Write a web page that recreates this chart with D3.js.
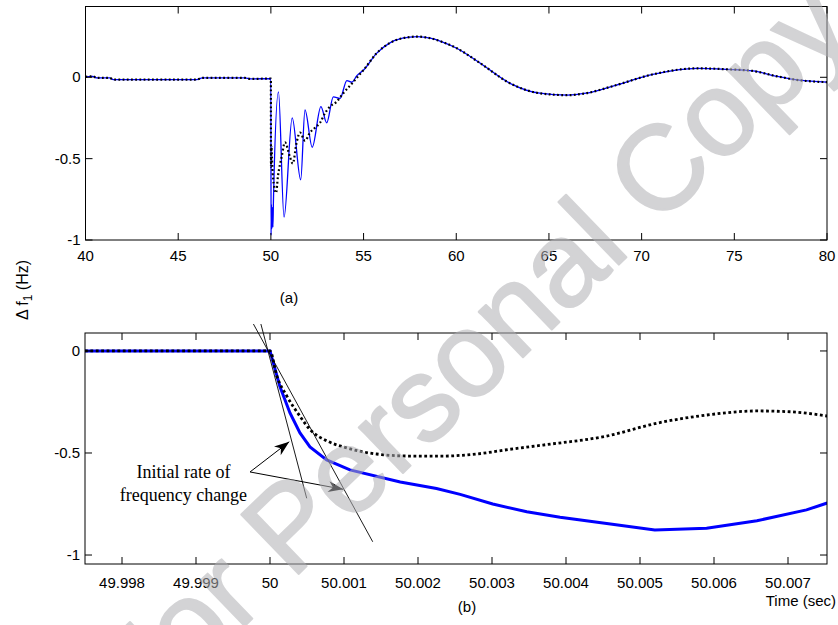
<!DOCTYPE html>
<html><head><meta charset="utf-8">
<script src="https://cdn.jsdelivr.net/npm/d3@7"></script>
<style>body{margin:0;background:#fff} svg{display:block}</style>
</head><body>
<svg id="c" width="838" height="625"></svg>
<script>
// ---------- Panel (a) data ----------
const preTime  = [40, 40.4, 40.6, 41.3, 41.5, 46.0, 46.3, 48.6, 48.9, 50.0];
const preVal   = [0.003, 0.006, -0.004, -0.004, -0.014, -0.014, -0.004, -0.004, -0.01, -0.008];
const blueTransTime = [50.0, 50.01, 50.03, 50.05, 50.08, 50.11, 50.14, 50.41, 50.71, 51.15, 51.61, 51.84, 52.23, 52.70, 53.01, 53.37, 53.73, 54.10, 54.37, 54.64];
const blueTransVal  = [-0.008, -0.97, -0.78, -0.93, -0.8, -0.92, -0.75, -0.09, -0.86, -0.25, -0.63, -0.20, -0.43, -0.18, -0.28, -0.12, -0.13, -0.02, -0.03, 0.01];
const dotTransTime  = [50.0, 50.005, 50.03, 50.06, 50.11, 50.28, 50.38, 50.58, 50.76, 51.03, 51.18, 51.39, 51.57, 51.84, 52.11, 52.38, 52.65, 52.92, 53.19, 53.55, 53.89, 54.36, 54.81];
const dotTransVal   = [-0.008, -0.55, -0.42, -0.5, -0.61, -0.71, -0.61, -0.49, -0.40, -0.49, -0.53, -0.40, -0.34, -0.39, -0.34, -0.31, -0.28, -0.22, -0.18, -0.15, -0.10, -0.04, 0.02];
const postTime = [55.0, 55.7, 56.4, 57.1, 57.9, 58.6, 59.3, 60.0, 61.3, 62.9, 64.5, 66.0, 67.0, 68.6, 70.6, 73.0, 74.6, 76.0, 77.3, 78.5, 80];
const postVal  = [0.045, 0.147, 0.21, 0.24, 0.25, 0.24, 0.215, 0.18, 0.086, -0.037, -0.098, -0.11, -0.098, -0.049, 0.018, 0.055, 0.049, 0.039, 0.006, -0.018, -0.03];
const topXTicks = [40, 45, 50, 55, 60, 65, 70, 75, 80];
const topYTicks = [-1, -0.5, 0];

// ---------- Panel (b) data ----------
const botBlueTime = [49.9975, 50.0, 50.000135, 50.00027, 50.000405, 50.00054, 50.000766, 50.00108, 50.00176, 50.00225, 50.00257, 50.00301, 50.00347, 50.00392, 50.00455, 50.0052, 50.0059, 50.00658, 50.00725, 50.00753];
const botBlueVal  = [0, 0, -0.176, -0.304, -0.402, -0.47, -0.534, -0.583, -0.642, -0.674, -0.703, -0.75, -0.788, -0.815, -0.846, -0.877, -0.869, -0.832, -0.779, -0.745];
const botDotTime  = [49.9975, 50.0, 50.00009, 50.000226, 50.000405, 50.00054, 50.000766, 50.001036, 50.00144, 50.00189, 50.00234, 50.00279, 50.00324, 50.00369, 50.00455, 50.00523, 50.0059, 50.00658, 50.00703, 50.00753];
const botDotVal   = [0, 0, -0.12, -0.22, -0.32, -0.385, -0.44, -0.475, -0.505, -0.515, -0.515, -0.505, -0.482, -0.461, -0.417, -0.354, -0.314, -0.294, -0.298, -0.319];
const botXTicks = [49.998, 49.999, 50, 50.001, 50.002, 50.003, 50.004, 50.005, 50.006, 50.007];
const botXLabels = ["49.998", "49.999", "50", "50.001", "50.002", "50.003", "50.004", "50.005", "50.006", "50.007"];
const botYTicks = [-1, -0.5, 0];

// annotation (data units of panel b)
const tangentA = [[49.999877, 0.132], [50.000496, -0.722]];
const tangentB = [[49.999776, 0.132], [50.001388, -0.935]];
const arrowFrom = [49.99973, -0.593];
const arrowTips = [[50.00026, -0.445], [50.00099, -0.678]];
const noteLines = ["Initial rate of", "frequency change"];
const notePos = [[49.99883, -0.623], [49.99883, -0.736]];

// ---------- drawing ----------
const svg = d3.select("#c");
const FONT = "Liberation Sans, Arial, sans-serif";
const zip = (a, b) => a.map((v, i) => [v, b[i]]);

function frame(g, x, y, xTicks, xFmt, yTicks, labelGap) {
  const [x0, x1] = x.range(), [yb, yt] = y.range();
  const tl = 7;
  const ax = g.append("g").attr("font-family", FONT).attr("font-size", 15);
  xTicks.forEach((t, i) => {
    const px = x(t);
    ax.append("line").attr("x1", px).attr("x2", px).attr("y1", yb).attr("y2", yb - tl).attr("stroke", "#000");
    ax.append("line").attr("x1", px).attr("x2", px).attr("y1", yt).attr("y2", yt + tl).attr("stroke", "#000");
    ax.append("text").attr("x", px).attr("y", yb + labelGap).attr("text-anchor", "middle").text(xFmt(t, i));
  });
  yTicks.forEach(t => {
    const py = y(t);
    ax.append("line").attr("x1", x0).attr("x2", x0 + tl).attr("y1", py).attr("y2", py).attr("stroke", "#000");
    ax.append("line").attr("x1", x1).attr("x2", x1 - tl).attr("y1", py).attr("y2", py).attr("stroke", "#000");
    ax.append("text").attr("x", x0 - 5).attr("y", py + 5).attr("text-anchor", "end").text(String(t));
  });
  ax.append("rect").attr("x", x0).attr("y", yt).attr("width", x1 - x0).attr("height", yb - yt)
    .attr("fill", "none").attr("stroke", "#000").attr("stroke-width", 1);
}

// Panel (a)
const xA = d3.scaleLinear().domain([40, 80]).range([85.5, 827]);
const yA = d3.scaleLinear().domain([-1, 0.435]).range([240, 6.5]);
svg.append("clipPath").attr("id", "clipA").append("rect")
  .attr("x", 85.5).attr("y", 6.5).attr("width", 827 - 85.5).attr("height", 240 - 6.5);
const lineA = d3.line().x(d => xA(d[0])).y(d => yA(d[1])).curve(d3.curveMonotoneX);
const blueA = zip(preTime.concat(blueTransTime, postTime), preVal.concat(blueTransVal, postVal));
const dotA  = zip(preTime.concat(dotTransTime, postTime), preVal.concat(dotTransVal, postVal));
const gA = svg.append("g").attr("clip-path", "url(#clipA)");
gA.append("path").attr("d", lineA(blueA)).attr("fill", "none").attr("stroke", "#0000ff").attr("stroke-width", 1.3);
gA.append("path").attr("d", lineA(dotA)).attr("fill", "none").attr("stroke", "#000").attr("stroke-width", 2.2)
  .attr("stroke-dasharray", "1.8,2.4");
frame(svg, xA, yA, topXTicks, t => String(t), topYTicks, 21);

// Panel (b)
const xB = d3.scaleLinear().domain([49.9975, 50.007527]).range([85, 827]);
const yB = d3.scaleLinear().domain([-1.044, 0.088]).range([564, 333]);
svg.append("clipPath").attr("id", "clipB").append("rect")
  .attr("x", 85).attr("y", 333).attr("width", 827 - 85).attr("height", 564 - 333);
const lineB = d3.line().x(d => xB(d[0])).y(d => yB(d[1]));
const lineBs = d3.line().x(d => xB(d[0])).y(d => yB(d[1])).curve(d3.curveMonotoneX);
const gB = svg.append("g").attr("clip-path", "url(#clipB)");
gB.append("path").attr("d", lineB(zip(botBlueTime, botBlueVal))).attr("fill", "none").attr("stroke", "#0000ff").attr("stroke-width", 3);
gB.append("path").attr("d", lineBs(zip(botDotTime, botDotVal))).attr("fill", "none").attr("stroke", "#000").attr("stroke-width", 2.8)
  .attr("stroke-dasharray", "2.8,2.6");
frame(svg, xB, yB, botXTicks, (t, i) => botXLabels[i], botYTicks, 24);

// annotations
const defs = svg.append("defs");
defs.append("marker").attr("id", "ah").attr("viewBox", "-16 -7 17 14").attr("refX", 0).attr("refY", 0)
  .attr("markerWidth", 17).attr("markerHeight", 14).attr("markerUnits", "userSpaceOnUse").attr("orient", "auto")
  .append("path").attr("d", "M0,0 L-15,-5.5 L-10.5,0 L-15,5.5 Z").attr("fill", "#000");
[tangentA, tangentB].forEach(seg => {
  svg.append("line").attr("x1", xB(seg[0][0])).attr("y1", yB(seg[0][1])).attr("x2", xB(seg[1][0])).attr("y2", yB(seg[1][1]))
    .attr("stroke", "#000").attr("stroke-width", 0.9);
});
arrowTips.forEach(tp => {
  svg.append("line").attr("x1", xB(arrowFrom[0])).attr("y1", yB(arrowFrom[1])).attr("x2", xB(tp[0])).attr("y2", yB(tp[1]))
    .attr("stroke", "#000").attr("stroke-width", 1).attr("marker-end", "url(#ah)");
});
noteLines.forEach((s, i) => {
  svg.append("text").attr("x", xB(notePos[i][0])).attr("y", yB(notePos[i][1])).attr("text-anchor", "middle")
    .attr("font-family", "Liberation Serif, Times New Roman, serif").attr("font-size", 18).text(s);
});

// titles / labels
svg.append("text").attr("x", 289).attr("y", 303).attr("text-anchor", "middle").attr("font-family", FONT).attr("font-size", 15).text("(a)");
svg.append("text").attr("x", 467).attr("y", 612).attr("text-anchor", "middle").attr("font-family", FONT).attr("font-size", 15).text("(b)");
svg.append("text").attr("x", 836).attr("y", 606).attr("text-anchor", "end").attr("font-family", FONT).attr("font-size", 15).text("Time (sec)");
const yl = svg.append("text").attr("transform", "translate(28,290) rotate(-90)").attr("text-anchor", "middle")
  .attr("font-family", FONT).attr("font-size", 16);
yl.append("tspan").text("Δ f");
yl.append("tspan").attr("dy", 4).attr("font-size", 12).text("1");
yl.append("tspan").attr("dy", -4).text(" (Hz)");

// watermark
svg.append("g").attr("opacity", 0.55)
  .append("text").attr("transform", "translate(138,729) rotate(-44)")
  .attr("font-family", FONT).attr("font-size", 120).attr("fill", "rgb(176,176,180)")
  .attr("stroke", "rgb(176,176,180)").attr("stroke-width", 2).attr("stroke-linejoin", "round")
  .text("For Personal Copy");
</script>
</body></html>
